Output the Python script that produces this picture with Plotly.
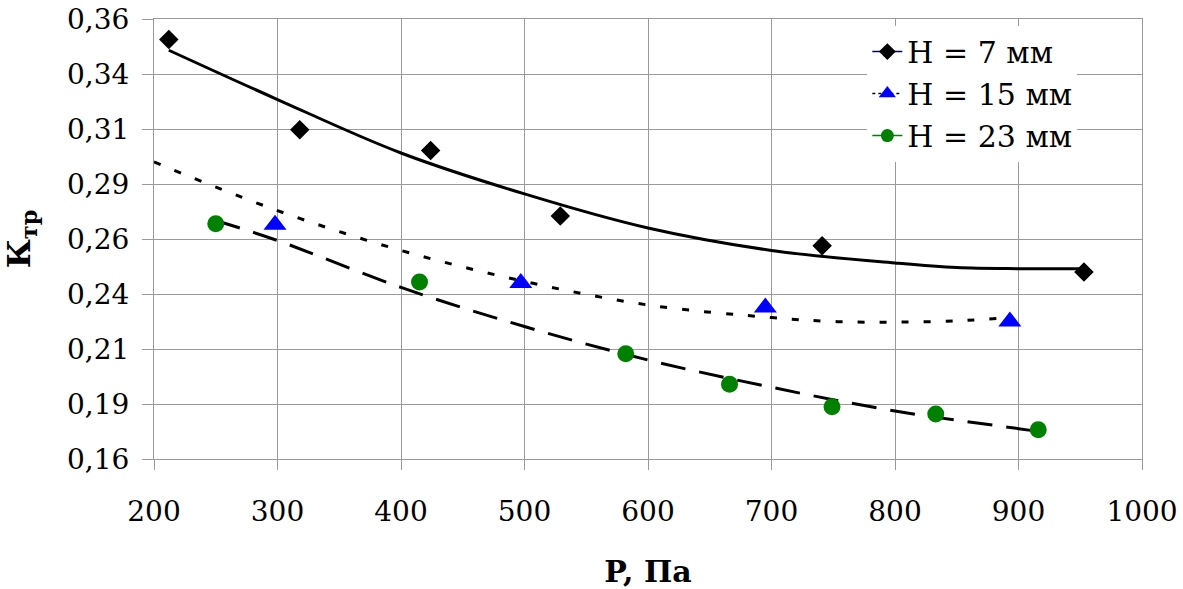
import plotly.graph_objects as go

# ---- data ----
# measured points
p_h7 = [212, 318, 424, 529, 741, 953]
k_h7 = [0.3507, 0.3097, 0.3002, 0.2704, 0.2569, 0.2450]

p_h15 = [298, 497, 695, 893]
k_h15 = [0.2665, 0.2400, 0.2289, 0.2225]

p_h23 = [250, 415, 582, 666, 749, 833, 916]
k_h23 = [0.2669, 0.2405, 0.2078, 0.1940, 0.1837, 0.1805, 0.1733]

# trend lines
tp_h7 = [212, 300, 400, 500, 600, 700, 800, 850, 900, 953]
tk_h7 = [0.3458, 0.3234, 0.2991, 0.2805, 0.2650, 0.2548, 0.2491, 0.2470, 0.2465, 0.2465]

tp_h15 = [200, 300, 400, 500, 600, 700, 750, 800, 850, 893]
tk_h15 = [0.2950, 0.2729, 0.2548, 0.2407, 0.2300, 0.2243, 0.2225, 0.2222, 0.2228, 0.2243]

tp_h23 = [250, 300, 400, 500, 600, 700, 800, 900, 916]
tk_h23 = [0.2684, 0.2593, 0.2380, 0.2202, 0.2050, 0.1926, 0.1818, 0.1738, 0.1725]

x_ticks = [200, 300, 400, 500, 600, 700, 800, 900, 1000]
y_ticks = [0.16, 0.185, 0.21, 0.235, 0.26, 0.285, 0.31, 0.335, 0.36]
y_tick_text = ["0,16", "0,19", "0,21", "0,24", "0,26", "0,29", "0,31", "0,34", "0,36"]

names = ["H = 7 мм", "H = 15 мм", "H = 23 мм"]

FONT = "DejaVu Serif"
GRID = "#9a9a9a"

fig = go.Figure()

# trend lines
fig.add_trace(go.Scatter(x=tp_h7, y=tk_h7, mode="lines", line=dict(color="black", width=3, shape="spline"),
                         showlegend=False, hoverinfo="skip"))
fig.add_trace(go.Scatter(x=tp_h15, y=tk_h15, mode="lines",
                         line=dict(color="black", width=3, dash="7px,15px", shape="spline"),
                         showlegend=False, hoverinfo="skip"))
fig.add_trace(go.Scatter(x=tp_h23, y=tk_h23, mode="lines",
                         line=dict(color="black", width=3, dash="25px,14px", shape="spline"),
                         showlegend=False, hoverinfo="skip"))

# measured points
fig.add_trace(go.Scatter(x=p_h7, y=k_h7, mode="markers", showlegend=False,
                         marker=dict(symbol="diamond", size=15, color="black")))
fig.add_trace(go.Scatter(x=p_h15, y=k_h15, mode="markers", showlegend=False,
                         marker=dict(symbol="triangle-up", size=20, color="#0000ff")))
fig.add_trace(go.Scatter(x=p_h23, y=k_h23, mode="markers", showlegend=False,
                         marker=dict(symbol="circle", size=17, color="#008000")))

# legend entries
fig.add_trace(go.Scatter(x=[None], y=[None], mode="lines+markers", name=names[0],
                         line=dict(color="#000060", width=1.5),
                         marker=dict(symbol="diamond", size=13, color="black")))
fig.add_trace(go.Scatter(x=[None], y=[None], mode="lines+markers", name=names[1],
                         line=dict(color="black", width=1.5, dash="dot"),
                         marker=dict(symbol="triangle-up", size=15, color="#0000ff")))
fig.add_trace(go.Scatter(x=[None], y=[None], mode="lines+markers", name=names[2],
                         line=dict(color="#008000", width=1.5),
                         marker=dict(symbol="circle", size=13, color="#008000")))

fig.update_layout(
    width=1183, height=589,
    margin=dict(l=154, r=41, t=19, b=130, autoexpand=False),
    paper_bgcolor="white", plot_bgcolor="white",
    font=dict(family=FONT, size=28, color="black"),
    showlegend=True,
    legend=dict(x=0.722, y=0.985, xanchor="left", yanchor="top",
                bgcolor="white", borderwidth=0,
                font=dict(family=FONT, size=30, color="black"),
                tracegroupgap=0, itemwidth=30),
    xaxis=dict(range=[200, 1000], tickvals=x_ticks, showgrid=True, gridcolor=GRID, gridwidth=1,
               showline=True, linecolor=GRID, linewidth=1, mirror=True,
               ticks="outside", ticklen=10, tickcolor=GRID, ticklabelstandoff=17,
               ticklabeloverflow="allow",
               tickfont=dict(family=FONT, size=28), zeroline=False, automargin=False,
               title=dict(text="<b>P, Па</b>", font=dict(family=FONT, size=30), standoff=45)),
    yaxis=dict(range=[0.16, 0.36], tickvals=y_ticks, ticktext=y_tick_text,
               showgrid=True, gridcolor=GRID, gridwidth=1,
               showline=True, linecolor=GRID, linewidth=1, mirror=True,
               ticks="outside", ticklen=11, tickcolor=GRID, ticklabelstandoff=7,
               ticklabeloverflow="allow",
               tickfont=dict(family=FONT, size=28), zeroline=False, automargin=False,
               title=dict(text="<b>К<sub>тр</sub></b>", font=dict(family=FONT, size=32), standoff=27)),
)

fig.write_html("out.html", config={"displayModeBar": False},
               post_script="document.body.style.margin='0px';")
